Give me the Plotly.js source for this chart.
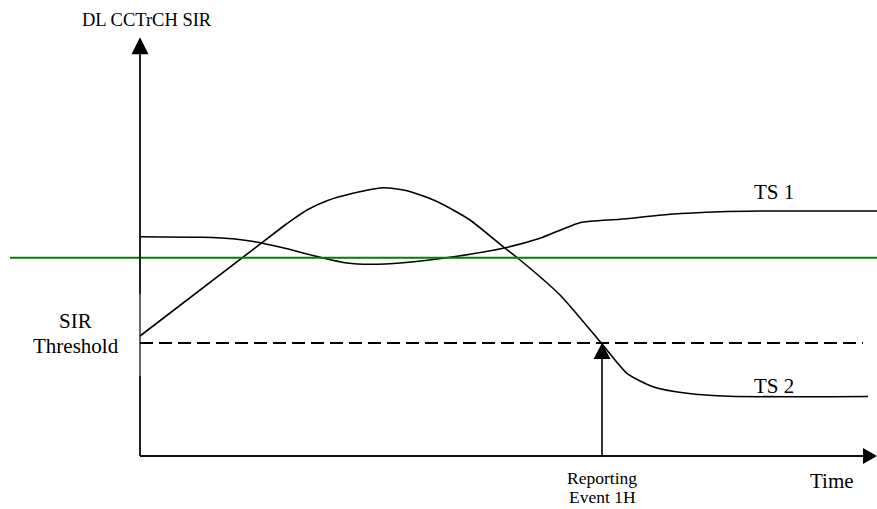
<!DOCTYPE html>
<html>
<head>
<meta charset="utf-8">
<script src="https://cdn.plot.ly/plotly-3.0.1.min.js"></script>
<style>html,body{margin:0;padding:0;background:#fff;}#chart{width:877px;height:509px;}</style>
</head>
<body>
<div id="chart"></div>
<script>
// Time axis and SIR values (arbitrary units, origin at axes crossing)
var ts1Time = [0, 62, 95, 115, 145, 183, 207, 230, 263, 310, 363, 400, 440, 480, 530, 580, 620, 737];
var ts1Sir  = [219.3, 218.7, 217, 214.3, 207.7, 198, 193, 191.7, 193.3, 198.7, 207.7, 217.7, 233.3, 236.7, 241.7, 244.3, 245, 245];
var ts2Time = [0, 145, 153, 167, 187, 213, 243, 267, 298, 330, 363, 377, 420, 462, 487, 513, 547, 590, 728];
var ts2Sir  = [120, 231, 236.7, 246, 255.3, 262.7, 268.3, 265.3, 254, 236, 209.3, 198.5, 161, 112, 82.7, 69.3, 62.7, 59.7, 59.5];
var sirThreshold = 113;      // dashed line level
var greenLevel = 198.3;      // green reference line
var eventTime = 462;         // Reporting Event 1H
var greenStart = -130, dashEnd = 723, axisTimeEnd = 737, axisSirEnd = 418.7;
var ySegBreaks = [80, 162];  // thin section of the SIR axis

var font = "'Liberation Serif', 'Times New Roman', serif";

var traces = [
  {x: ts1Time, y: ts1Sir, mode: 'lines', line: {color: '#000', width: 1.6, shape: 'spline', smoothing: 0.6}, hoverinfo: 'skip'},
  {x: ts2Time, y: ts2Sir, mode: 'lines', line: {color: '#000', width: 1.6, shape: 'spline', smoothing: 0.6}, hoverinfo: 'skip'}
];

var shapes = [
  // green line
  {type: 'line', xref: 'x', yref: 'y', x0: greenStart, x1: axisTimeEnd, y0: greenLevel, y1: greenLevel, line: {color: '#008000', width: 2}},
  // threshold dashed
  {type: 'line', xref: 'x', yref: 'y', x0: 0, x1: dashEnd, y0: sirThreshold, y1: sirThreshold, line: {color: '#000', width: 1.8, dash: '13px,6px'}},
  // time axis
  {type: 'line', xref: 'x', yref: 'y', x0: 0, x1: axisTimeEnd - 12, y0: 0, y1: 0, line: {color: '#111', width: 2}},
  {type: 'path', xref: 'x', yref: 'y', xsizemode: 'pixel', ysizemode: 'pixel', xanchor: axisTimeEnd, yanchor: 0,
   path: 'M0,0 L-14,8 L-14,-8 Z', fillcolor: '#000', line: {width: 0}},
  // SIR axis (thick / thin / thick)
  {type: 'line', xref: 'x', yref: 'y', x0: 0, x1: 0, y0: 0, y1: ySegBreaks[0], line: {color: '#222', width: 2}},
  {type: 'line', xref: 'x', yref: 'y', x0: 0, x1: 0, y0: ySegBreaks[0], y1: ySegBreaks[1], line: {color: '#000', width: 1.2}},
  {type: 'line', xref: 'x', yref: 'y', x0: 0, x1: 0, y0: ySegBreaks[1], y1: axisSirEnd - 12, line: {color: '#222', width: 2}},
  {type: 'path', xref: 'x', yref: 'y', xsizemode: 'pixel', ysizemode: 'pixel', xanchor: 0, yanchor: axisSirEnd,
   path: 'M0,0 L-8.5,-17 L8.5,-17 Z', fillcolor: '#000', line: {width: 0}},
  // reporting event arrow
  {type: 'line', xref: 'x', yref: 'y', x0: eventTime, x1: eventTime, y0: 0, y1: sirThreshold - 10, line: {color: '#000', width: 1.6}},
  {type: 'path', xref: 'x', yref: 'y', xsizemode: 'pixel', ysizemode: 'pixel', xanchor: eventTime, yanchor: sirThreshold,
   path: 'M0,0 L-8.5,-16 L8.5,-16 Z', fillcolor: '#000', line: {width: 0}}
];

function lab(text, x, y, size) {
  return {text: text, x: x, y: y, xref: 'x', yref: 'y', showarrow: false, xanchor: 'center', yanchor: 'middle',
          font: {family: font, size: size, color: '#000'}};
}
var annotations = [
  lab('DL CCTrCH SIR', 6.5, 436, 18.5),
  lab('TS 1', 633.5, 264, 21),
  lab('TS 2', 634, 70.5, 21),
  lab('SIR', -65, 135, 21),
  lab('Threshold', -64.5, 110, 21),
  lab('Reporting', 462, -21.5, 17.5),
  lab('Event 1H', 462, -40.5, 17.5),
  lab('Time', 692, -24.5, 21)
];

var layout = {
  width: 877, height: 509,
  margin: {l: 0, r: 0, t: 0, b: 0},
  paper_bgcolor: '#fff', plot_bgcolor: '#fff',
  showlegend: false,
  xaxis: {range: [-140, 737], visible: false, fixedrange: true},
  yaxis: {range: [-53, 456], visible: false, fixedrange: true},
  shapes: shapes,
  annotations: annotations
};
Plotly.newPlot('chart', traces, layout, {staticPlot: true, displayModeBar: false});
</script>
</body>
</html>
